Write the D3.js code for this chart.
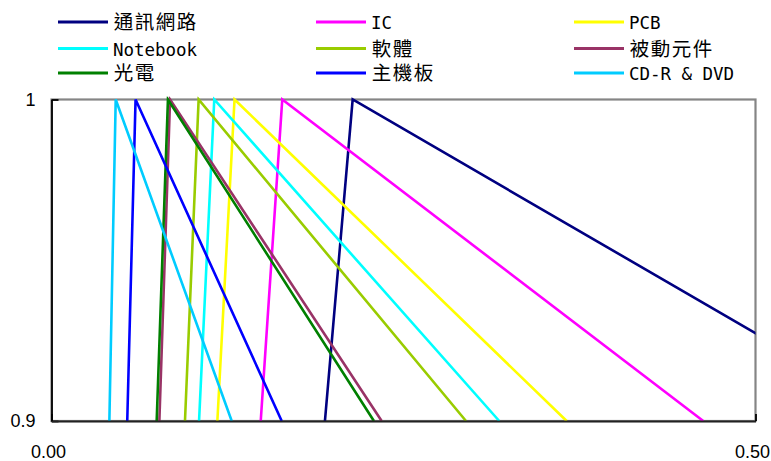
<!DOCTYPE html>
<html><head><meta charset="utf-8">
<script src="https://cdn.jsdelivr.net/npm/d3@7"></script>
<style>
html,body{margin:0;padding:0;background:#fff;}
svg{display:block;}
text{font-family:"Liberation Sans","Noto Sans CJK TC",Arial,sans-serif;}
</style></head>
<body>
<svg id="chart" width="771" height="461"></svg>
<script>
// ---- data ----
const seriesNames = ["通訊網路","IC","PCB","Notebook","軟體","被動元件","光電","主機板","CD-R & DVD"];
const startX = [0.1942, 0.1486, 0.1178, 0.1048, 0.0948, 0.0766, 0.0747, 0.0538, 0.0411];
const peakX  = [0.2139, 0.1639, 0.1300, 0.1156, 0.1045, 0.0842, 0.0827, 0.0597, 0.0456];
const endX   = [0.6074, 0.4629, 0.3659, 0.3180, 0.2944, 0.2345, 0.2290, 0.1635, 0.1280];
const yLevels = [0.9, 1, 0.9];
const xTicks = [0, 0.5];
const yTicks = [0.9, 1];
// ---- styles ----
const seriesColors = ["#000080","#FF00FF","#FFFF00","#00FFFF","#99CC00","#993366","#008000","#0000FF","#00CCFF"];

const svg = d3.select("#chart");
const L = 51.5, R = 755.5, T = 99.5, B = 421;
const x = d3.scaleLinear().domain([0, 0.5]).range([L, R]);
const y = d3.scaleLinear().domain([0.9, 1]).range([B, T]);

svg.append("defs").append("clipPath").attr("id","clip")
  .append("rect").attr("x",L).attr("y",T-3).attr("width",R-L).attr("height",B-T+6);

// frame
svg.append("rect").attr("x",L).attr("y",T).attr("width",R-L).attr("height",B-T)
  .attr("fill","none").attr("stroke","#858585").attr("stroke-width",2.2);

// series
const line = d3.line().x(d=>x(d[0])).y(d=>y(d[1]));
const g = svg.append("g").attr("clip-path","url(#clip)");
seriesNames.forEach((name,i)=>{
  const pts = [startX[i], peakX[i], endX[i]].map((v,k)=>[v, yLevels[k]]);
  g.append("path").attr("d", line(pts)).attr("fill","none")
    .attr("stroke", seriesColors[i]).attr("stroke-width",2.6).attr("stroke-linejoin","miter");
});

// axes
const yAxis = d3.axisLeft(y).tickValues(yTicks).tickSizeInner(-7).tickSizeOuter(0).tickPadding(16)
  .tickFormat(d=> d===1 ? "1" : d3.format(".1f")(d));
const ya = svg.append("g").attr("transform",`translate(${L},0)`).call(yAxis);
ya.select(".domain").attr("stroke","#000").attr("stroke-width",1.8);
ya.selectAll(".tick line").attr("stroke","#000").attr("stroke-width",1.8);
ya.selectAll("text").attr("font-size",18).attr("fill","#000").attr("font-family","Liberation Sans, Arial, sans-serif");

const xAxis = d3.axisBottom(x).tickValues(xTicks).tickSizeInner(-7).tickSizeOuter(0).tickPadding(0)
  .tickFormat(d3.format(".2f"));
const xa = svg.append("g").attr("transform",`translate(0,${B})`).call(xAxis);
xa.select(".domain").attr("stroke","#222").attr("stroke-width",2);
xa.selectAll(".tick line").attr("stroke","#000").attr("stroke-width",1.8);
xa.selectAll(".tick text").attr("font-size",18).attr("fill","#000").attr("font-family","Liberation Sans, Arial, sans-serif")
  .attr("dy",null).attr("y",37).attr("x",-3.5);

// legend (fixed-pitch cells: full-width 21px, half-width 10.5px)
const colX = [58, 316, 574];
const rowY = [22, 48.5, 73];
const isWide = c => /[\u2E80-\u9FFF\uF900-\uFAFF]/.test(c);
seriesNames.forEach((name,i)=>{
  const cx = colX[i%3], cy = rowY[Math.floor(i/3)];
  svg.append("line").attr("x1",cx).attr("x2",cx+50).attr("y1",cy).attr("y2",cy)
    .attr("stroke",seriesColors[i]).attr("stroke-width",2.8);
  const t = svg.append("text").attr("y",cy+7).attr("fill","#000").attr("text-anchor","middle");
  let pos = cx + 55;
  Array.from(name).forEach(c=>{
    const wide = isWide(c);
    const w = wide ? 21 : 10.5;
    if (c !== " ") {
      t.append("tspan").attr("x", pos + w/2)
        .attr("font-family", wide ? "Noto Sans CJK TC, sans-serif" : "DejaVu Sans Mono, monospace")
        .attr("font-size", wide ? 19.5 : 17.5).text(c);
    }
    pos += w;
  });
});
</script>
</body></html>
